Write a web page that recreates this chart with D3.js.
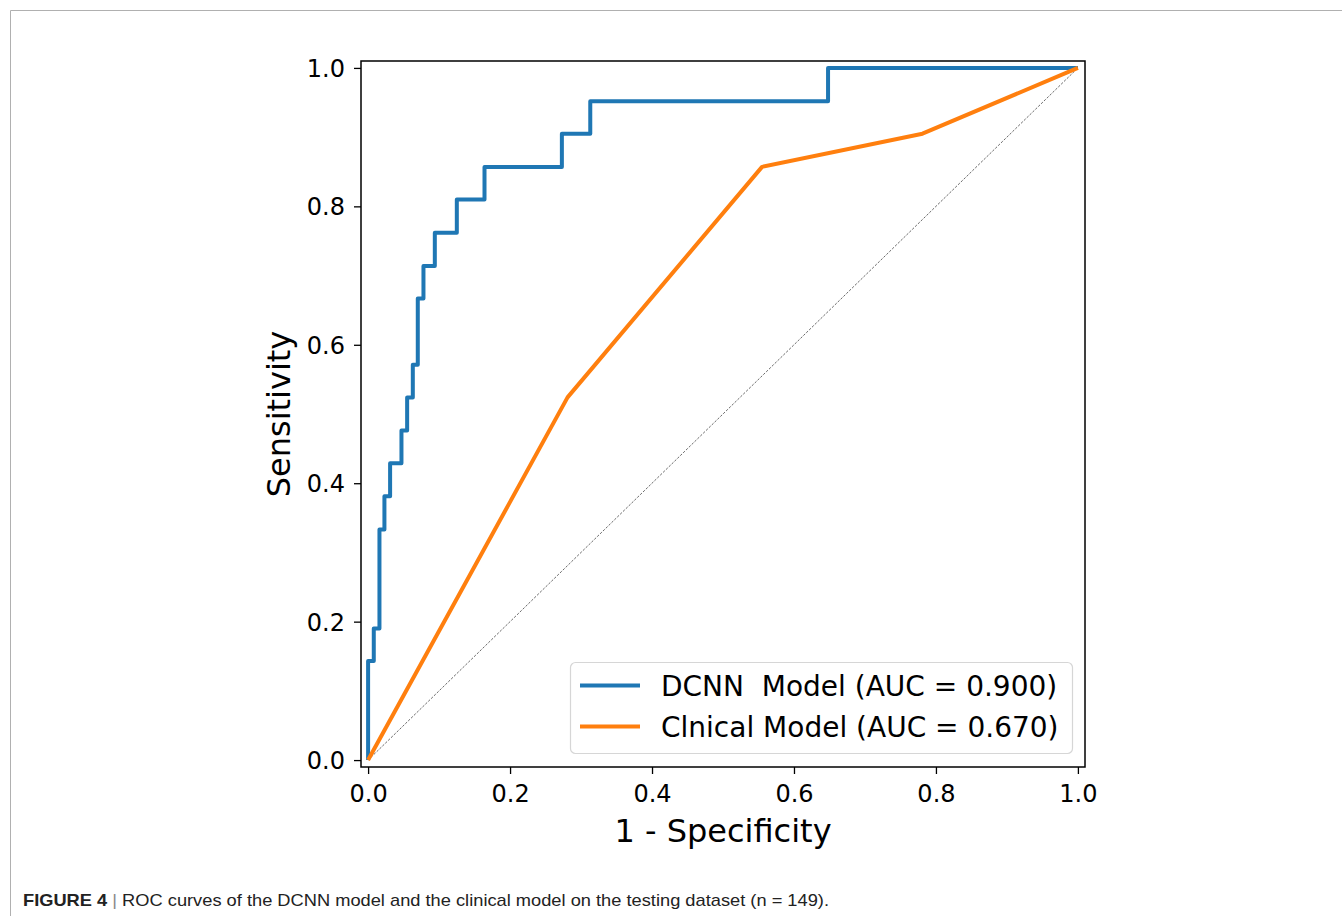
<!DOCTYPE html>
<meta charset="utf-8">
<script src="https://d3js.org/d3.v7.min.js"></script>
<style>
    body {
        margin: 0;
        padding: 0;
        background: #fff;
    }
    svg text {
        font-family: 'DejaVu Sans', sans-serif;
    }
</style>
<body>
    <svg width="1342" height="916"></svg>
    <script>
        // curva ROC del modelo DCNN (1 - especificidad, sensibilidad)
        var dcnnFpr = [0, 0, 0.008, 0.008, 0.016, 0.016, 0.023, 0.023, 0.031, 0.031, 0.047, 0.047,
            0.055, 0.055, 0.063, 0.063, 0.070, 0.070, 0.078, 0.078, 0.094, 0.094, 0.125, 0.125,
            0.164, 0.164, 0.273, 0.273, 0.313, 0.313, 0.648, 0.648, 1.0];
        var dcnnTpr = [0, 0.143, 0.143, 0.190, 0.190, 0.333, 0.333, 0.381, 0.381, 0.429, 0.429, 0.476,
            0.476, 0.524, 0.524, 0.571, 0.571, 0.667, 0.667, 0.714, 0.714, 0.762, 0.762, 0.810,
            0.810, 0.857, 0.857, 0.905, 0.905, 0.952, 0.952, 1.0, 1.0];

        // curva ROC del modelo clinico
        var clinFpr = [0, 0.281, 0.555, 0.781, 1.0];
        var clinTpr = [0, 0.524, 0.857, 0.905, 1.0];

        var ticks = [0.0, 0.2, 0.4, 0.6, 0.8, 1.0];
        var legendLabels = ["DCNN  Model (AUC = 0.900)", "Clnical Model (AUC = 0.670)"];
        var colors = ["#1f77b4", "#ff7f0e"];

        var svg = d3.select("svg");

        // marco gris de la figura
        svg.append("path")
            .attr("d", "M10.5,916 V10.5 H1342")
            .attr("fill", "none")
            .attr("stroke", "#b0b0b0")
            .attr("stroke-width", 1);

        var mLeft = 361, mRight = 1085, mTop = 61, mBottom = 767;

        var x = d3.scaleLinear().domain([-0.01, 1.01]).range([mLeft, mRight]);
        var y = d3.scaleLinear().domain([-0.01, 1.01]).range([mBottom, mTop]);

        // linea diagonal de referencia
        svg.append("line")
            .attr("x1", x(0)).attr("y1", y(0))
            .attr("x2", x(1)).attr("y2", y(1))
            .attr("stroke", "#444")
            .attr("stroke-width", 0.8)
            .attr("stroke-dasharray", "2.5,1.5");

        var line = d3.line()
            .x(function (d) { return x(d[0]); })
            .y(function (d) { return y(d[1]); });

        var series = [d3.zip(dcnnFpr, dcnnTpr), d3.zip(clinFpr, clinTpr)];

        svg.selectAll(".curve")
            .data(series)
            .enter()
            .append("path")
            .attr("class", "curve")
            .attr("d", line)
            .attr("fill", "none")
            .attr("stroke", function (d, i) { return colors[i]; })
            .attr("stroke-width", 4)
            .attr("stroke-linejoin", "round");

        // ejes
        var fmt = d3.format(".1f");
        var gx = svg.append("g")
            .attr("transform", "translate(0," + mBottom + ")")
            .call(d3.axisBottom(x).tickValues(ticks).tickFormat(fmt).tickSize(7).tickPadding(11).tickSizeOuter(0));
        var gy = svg.append("g")
            .attr("transform", "translate(" + mLeft + ",0)")
            .call(d3.axisLeft(y).tickValues(ticks).tickFormat(fmt).tickSize(7).tickPadding(9).tickSizeOuter(0));

        [gx, gy].forEach(function (g) {
            g.select(".domain").remove();
            g.selectAll("line").attr("stroke", "#000").attr("stroke-width", 1.3);
            g.selectAll("text")
                .attr("font-size", "24px")
                .attr("font-family", "'DejaVu Sans', sans-serif")
                .attr("fill", "#000");
        });
        gy.selectAll("text").attr("dy", "0.36em");

        // borde de los ejes
        svg.append("rect")
            .attr("x", mLeft).attr("y", mTop)
            .attr("width", mRight - mLeft).attr("height", mBottom - mTop)
            .attr("fill", "none")
            .attr("stroke", "#000")
            .attr("stroke-width", 1.5);

        // titulos de ejes
        svg.append("text")
            .attr("x", (x(0) + x(1)) / 2)
            .attr("y", 842)
            .attr("text-anchor", "middle")
            .attr("font-size", "32px")
            .attr("fill", "#000")
            .text("1 - Specificity");

        svg.append("text")
            .attr("transform", "translate(290," + (y(0) + y(1)) / 2 + ") rotate(-90)")
            .attr("text-anchor", "middle")
            .attr("font-size", "32px")
            .attr("fill", "#000")
            .text("Sensitivity");

        // leyenda
        var lg = svg.append("g");
        lg.append("rect")
            .attr("x", 570.5).attr("y", 662.5)
            .attr("width", 502).attr("height", 91)
            .attr("rx", 5)
            .attr("fill", "#fff")
            .attr("fill-opacity", 0.8)
            .attr("stroke", "#d6d6d6")
            .attr("stroke-width", 1.2);

        legendLabels.forEach(function (lab, i) {
            var ly = 685.5 + i * 41;
            lg.append("line")
                .attr("x1", 580).attr("x2", 640)
                .attr("y1", ly).attr("y2", ly)
                .attr("stroke", colors[i])
                .attr("stroke-width", 4);
            lg.append("text")
                .attr("x", 661)
                .attr("y", ly + 10)
                .attr("font-size", "28px")
                .attr("fill", "#000")
                .style("white-space", "pre")
                .text(lab);
        });

        // pie de figura
        var cap = svg.append("text")
            .attr("x", 23)
            .attr("y", 906)
            .attr("font-size", "17px")
            .attr("textLength", 806)
            .attr("lengthAdjust", "spacingAndGlyphs")
            .style("font-family", "'Liberation Sans', Arial, sans-serif")
            .attr("fill", "#222");
        cap.append("tspan").attr("font-weight", "bold").text("FIGURE 4");
        cap.append("tspan").attr("fill", "#888").text(" | ");
        cap.append("tspan").text("ROC curves of the DCNN model and the clinical model on the testing dataset (n = 149).");
    </script>
</body>
